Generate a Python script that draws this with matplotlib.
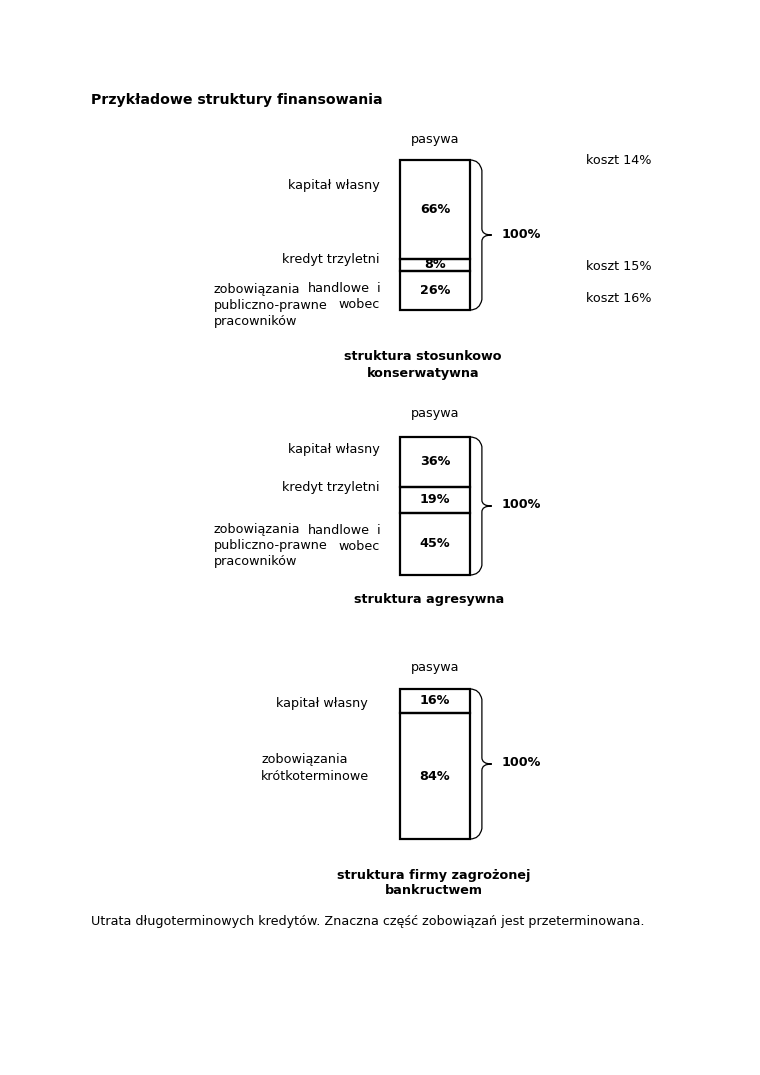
import numpy as np
import matplotlib
matplotlib.use("Agg")
import matplotlib.pyplot as plt
from matplotlib.path import Path
from matplotlib.patches import PathPatch

plt.rcParams["font.family"] = ["DejaVu Sans"]

TITLE = "Przykładowe struktury finansowania"
FOOTNOTE = ("Utrata długoterminowych kredytów. Znaczna część zobowiązań "
            "jest przeterminowana.")
HEADER = "pasywa"
TOTAL = "100%"

# struktura 1
labels_1 = ["kapitał własny", "kredyt trzyletni",
            "zobowiązania handlowe i\npubliczno-prawne wobec\npracowników"]
shares_1 = [66, 8, 26]
costs_1 = [14, 15, 16]
caption_1 = "struktura stosunkowo\nkonserwatywna"

# struktura 2
labels_2 = ["kapitał własny", "kredyt trzyletni",
            "zobowiązania handlowe i\npubliczno-prawne wobec\npracowników"]
shares_2 = [36, 19, 45]
caption_2 = "struktura agresywna"

# struktura 3
labels_3 = ["kapitał własny", "zobowiązania\nkrótkoterminowe"]
shares_3 = [16, 84]
caption_3 = "struktura firmy zagrożonej\nbankructwem"

W, H = 760, 1075
FS = 9.2
LINE = 16
VA = "center_baseline"
DY = -1.5  # small shift of text rows

fig = plt.figure(figsize=(W / 100, H / 100), dpi=100)
fig.patch.set_facecolor("white")
page = fig.add_axes([0, 0, 1, 1])
page.set_xlim(0, W)
page.set_ylim(H, 0)
page.axis("off")
renderer = fig.canvas.get_renderer()


def px_axes(x0, y0, x1, y1):
    return fig.add_axes([x0 / W, 1 - y1 / H, (x1 - x0) / W, (y1 - y0) / H])


def txt(x, y, s, **kw):
    kw.setdefault("va", VA)
    kw.setdefault("fontsize", FS)
    return page.text(x, y + DY, s, **kw)


def draw_brace(ax):
    # curly brace to the right of the box, in axes fraction
    xa, xm, xt, r = 1.0, 1.17, 1.31, 0.07
    verts = [(xa, 1.0), (xm - 0.03, 1.0), (xm, 1 - r),
             (xm, 0.5 + r * 0.6), (xm, 0.5), (xt, 0.5),
             (xm, 0.5), (xm, 0.5 - r * 0.6),
             (xm, r), (xm - 0.03, 0.0), (xa, 0.0)]
    codes = [Path.MOVETO, Path.CURVE3, Path.CURVE3,
             Path.LINETO, Path.CURVE3, Path.CURVE3,
             Path.CURVE3, Path.CURVE3,
             Path.LINETO, Path.CURVE3, Path.CURVE3]
    ax.add_patch(PathPatch(Path(verts, codes), transform=ax.transAxes,
                           fill=False, lw=0.9, ec="black", clip_on=False))


def draw_stack(box, shares):
    ax = px_axes(*box)
    bottoms = np.cumsum([0] + shares[:-1])
    bars = ax.bar(0.5, shares, width=1.0, bottom=bottoms, fill=False,
                  edgecolor="black", linewidth=1.6)
    for p in bars:
        p.set_clip_on(False)
    for b, s in zip(bottoms, shares):
        ax.text(0.5, b + s / 2, f"{s}%", ha="center", va="center",
                fontsize=FS, fontweight="bold")
    ax.set_xlim(0, 1)
    ax.set_ylim(100, 0)
    ax.axis("off")
    draw_brace(ax)
    return ax


def word_width(w):
    t = page.text(0, 0, w, fontsize=FS)
    wd = t.get_window_extent(renderer).width
    t.remove()
    return wd


def put_label(label, y, x_left, x_right):
    lines = label.split("\n")
    if len(lines) == 1:
        txt(x_right, y, label, ha="right")
        return
    for i, line in enumerate(lines):
        yy = y + i * LINE
        words = line.split(" ")
        if len(words) == 1 or i == len(lines) - 1:
            txt(x_left, yy, line, ha="left")
            continue
        # justified line, as in the source document
        widths = [word_width(w) for w in words]
        gap = (x_right - x_left - sum(widths)) / (len(words) - 1)
        x = x_left
        for w, wd in zip(words, widths):
            txt(x, yy, w, ha="left")
            x += wd + gap


txt(91, 100, TITLE, ha="left", fontsize=10.2, fontweight="bold")

structures = [
    dict(labels=labels_1, shares=shares_1, caption=caption_1,
         box=(400, 160, 470, 310), header_y=139, total_y=235,
         label_y=[185, 259, 289], left=214, right=380,
         caption_x=423, caption_y=357),
    dict(labels=labels_2, shares=shares_2, caption=caption_2,
         box=(400, 437, 470, 575), header_y=414, total_y=505,
         label_y=[449, 488, 530], left=214, right=380,
         caption_x=429, caption_y=600),
    dict(labels=labels_3, shares=shares_3, caption=caption_3,
         box=(400, 689, 470, 839), header_y=667, total_y=763,
         label_y=[703, 760], left=261, right=368,
         caption_x=434, caption_y=875),
]

for st in structures:
    draw_stack(st["box"], st["shares"])
    x0, y0, x1, y1 = st["box"]
    txt((x0 + x1) / 2, st["header_y"], HEADER, ha="center")
    txt(502, st["total_y"], TOTAL, ha="left", fontweight="bold")
    for lab, ly in zip(st["labels"], st["label_y"]):
        put_label(lab, ly, st["left"], st["right"])
    for i, cl in enumerate(st["caption"].split("\n")):
        txt(st["caption_x"], st["caption_y"] + i * LINE, cl,
            ha="center", fontweight="bold")

for c, cy in zip(costs_1, [161, 266, 299]):
    txt(586, cy, f"koszt {c}%", ha="left")

txt(91, 922, FOOTNOTE, ha="left")

fig.savefig("out.png", dpi=100, facecolor="white")
